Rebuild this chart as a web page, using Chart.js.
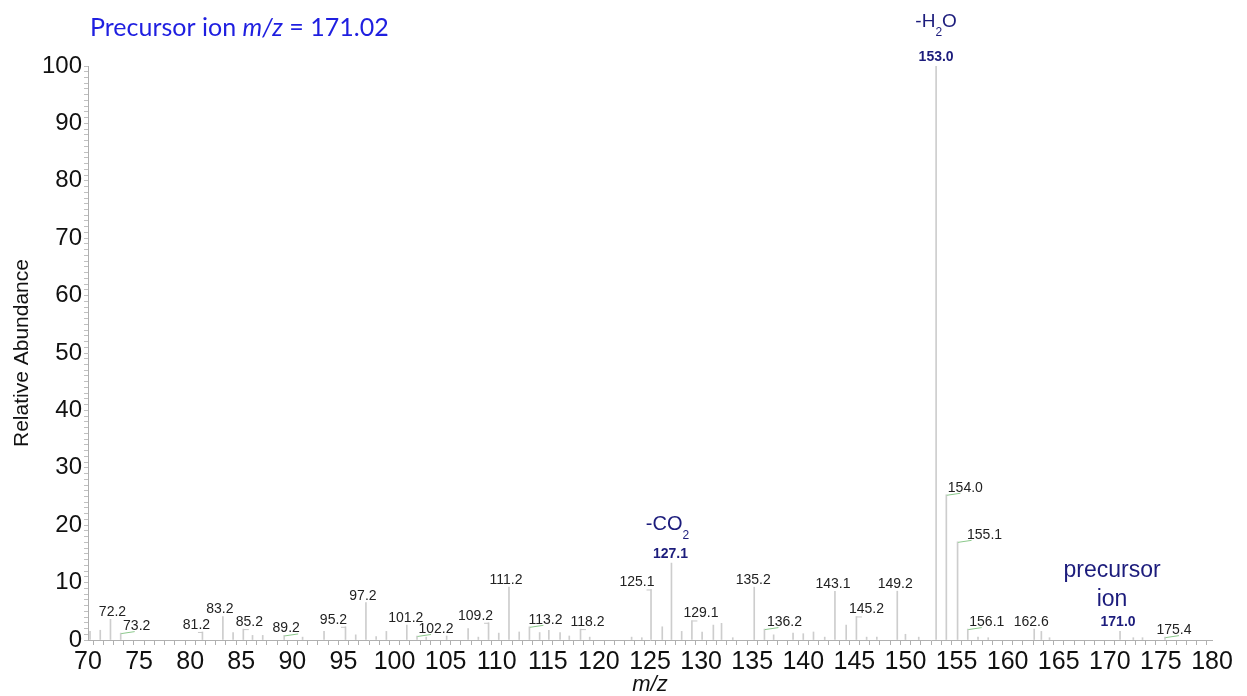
<!DOCTYPE html>
<html>
<head>
<meta charset="utf-8">
<script src="https://cdn.jsdelivr.net/npm/chart.js@4.4.1/dist/chart.umd.min.js"></script>
<style>
  html, body { margin: 0; padding: 0; background: #fff; }
  canvas { display: block; }
</style>
</head>
<body>
<canvas id="spectrum" width="1247" height="696"></canvas>
<script>
// peaks (m/z, relative abundance %)
const mzValues = [70.2, 71.2, 72.2, 73.2, 81.2, 83.2, 84.2, 85.2, 86.1, 87.1,
  89.2, 91.0, 93.1, 95.2, 96.2, 97.2, 98.2, 99.2, 101.2, 102.2,
  103.1, 105.1, 107.2, 108.2, 109.2, 110.2, 111.2, 112.2, 113.2, 114.2,
  115.1, 116.2, 117.1, 118.2, 119.1, 123.2, 124.2, 125.1, 126.2, 127.1,
  128.1, 129.1, 130.1, 131.2, 132.0, 133.1, 135.2, 136.2, 137.1, 139.0,
  140.0, 141.0, 142.1, 143.1, 144.2, 145.2, 146.2, 147.2, 149.2, 150.0,
  151.3, 153.0, 154.0, 155.1, 156.1, 157.1, 158.1, 162.6, 163.3, 164.1,
  171.0, 172.3, 173.2, 175.4];
const abundance = [1.5, 1.7, 3.6, 1.2, 1.4, 4.1, 1.3, 1.9, 0.8, 0.8,
  0.8, 0.5, 1.5, 2.3, 0.9, 6.5, 0.6, 1.5, 2.6, 0.7,
  0.5, 0.7, 2.0, 0.5, 3.0, 1.2, 9.2, 1.4, 2.3, 1.3,
  1.7, 1.3, 0.7, 1.9, 0.5, 0.5, 0.4, 8.8, 2.3, 13.4,
  1.5, 3.4, 1.4, 2.6, 2.9, 0.4, 9.2, 1.9, 0.9, 1.2,
  1.1, 1.4, 0.5, 8.5, 2.6, 4.1, 0.5, 0.5, 8.5, 1.0,
  0.5, 100, 25.3, 17.1, 1.9, 0.5, 0.4, 1.9, 1.5, 0.4,
  1.5, 0.4, 0.4, 0.5];

// peaks that carry an m/z label, and the ones printed in bold
const labeledPeaks = [72.2, 73.2, 81.2, 83.2, 85.2, 89.2, 95.2, 97.2, 101.2, 102.2,
  109.2, 111.2, 113.2, 118.2, 125.1, 127.1, 129.1, 135.2, 136.2, 143.1,
  145.2, 149.2, 153.0, 154.0, 155.1, 156.1, 162.6, 171.0, 175.4];
const boldPeaks = [127.1, 153.0, 171.0];

const xTickLabels = [70, 75, 80, 85, 90, 95, 100, 105, 110, 115, 120, 125, 130, 135, 140, 145, 150, 155, 160, 165, 170, 175, 180];
const yTickLabels = [0, 10, 20, 30, 40, 50, 60, 70, 80, 90, 100];

const precursorMz = '171.02';

// horizontal nudges of the peak labels, in px
const labelShift = {
  72.2: 2, 73.2: 16, 81.2: -6, 83.2: -3, 85.2: 6, 89.2: 2, 95.2: -12, 97.2: -3,
  101.2: -1, 102.2: 19, 109.2: -13, 111.2: -3, 113.2: 16, 118.2: 7, 125.1: -14,
  127.1: -1, 129.1: 9, 135.2: -1, 136.2: 20, 143.1: -2, 145.2: 10, 149.2: -2,
  153.0: 0, 154.0: 19, 155.1: 27, 156.1: 19, 162.6: -3, 171.0: -2, 175.4: 9
};
const greenLeaders = [73.2, 89.2, 102.2, 113.2, 136.2, 154.0, 155.1, 156.1, 175.4];

const NAVY = '#1c1c7c';
const SANS = '"Liberation Sans", Arial, sans-serif';

function drawFormula(ctx, parts, cx, baseline, size) {
  // parts: [text, isSub]
  let w = 0;
  parts.forEach(([t, sub]) => {
    ctx.font = (sub ? Math.round(size * 0.62) : size) + 'px ' + SANS;
    w += ctx.measureText(t).width;
  });
  let x = cx - w / 2;
  ctx.textAlign = 'left';
  parts.forEach(([t, sub]) => {
    ctx.font = (sub ? Math.round(size * 0.62) : size) + 'px ' + SANS;
    ctx.fillText(t, x, sub ? baseline + size * 0.45 : baseline);
    x += ctx.measureText(t).width;
  });
}

const annotations = {
  id: 'annotations',
  afterDatasetsDraw(chart) {
    const ctx = chart.ctx;
    const xs = chart.scales.x, ys = chart.scales.y;
    ctx.save();
    ctx.textBaseline = 'alphabetic';

    labeledPeaks.forEach(m => {
      const i = mzValues.indexOf(m);
      const px = xs.getPixelForValue(m);
      const py = ys.getPixelForValue(abundance[i]);
      const dx = labelShift[m] || 0;
      const bold = boldPeaks.includes(m);
      if (greenLeaders.includes(m)) {
        ctx.strokeStyle = '#8cc98c';
        ctx.lineWidth = 1;
        ctx.beginPath();
        ctx.moveTo(px + 0.5, py + 0.5);
        ctx.lineTo(px + 14, py - 1.5);
        ctx.stroke();
      } else if (Math.abs(dx) >= 6) {
        ctx.strokeStyle = '#c8c8c8';
        ctx.lineWidth = 1;
        ctx.beginPath();
        ctx.moveTo(px + 0.5, py + 0.5);
        ctx.lineTo(px + 0.5 + Math.sign(dx) * 5, py + 0.5);
        ctx.stroke();
      }
      ctx.textAlign = 'center';
      if (bold) {
        ctx.font = 'bold 14px ' + SANS;
        ctx.fillStyle = NAVY;
        ctx.fillText(m.toFixed(1), px + dx, py - 5);
      } else {
        ctx.font = '14px ' + SANS;
        ctx.fillStyle = '#222';
        ctx.fillText(m.toFixed(1), px + dx, py - 3);
      }
    });

    // fragment annotations
    ctx.fillStyle = NAVY;
    const h2oX = xs.getPixelForValue(153.0), h2oY = ys.getPixelForValue(100);
    drawFormula(ctx, [['-H', false], ['2', true], ['O', false]], h2oX, h2oY - 39, 19);
    const co2X = xs.getPixelForValue(127.1), co2Y = ys.getPixelForValue(13.4);
    drawFormula(ctx, [['-CO', false], ['2', true]], co2X - 4, co2Y - 33, 20);
    const preX = xs.getPixelForValue(171.0), preY = ys.getPixelForValue(1.5);
    ctx.textAlign = 'center';
    ctx.font = '23px ' + SANS;
    ctx.fillText('precursor', preX - 8, preY - 54);
    ctx.fillText('ion', preX - 8, preY - 25);

    // heading
    ctx.fillStyle = '#1f1fe0';
    ctx.textAlign = 'left';
    let x = 90;
    const hf = '25px Lato, "Open Sans", sans-serif';
    ctx.font = hf;
    ctx.fillText('Precursor ion ', x, 36);
    x += ctx.measureText('Precursor ion ').width;
    ctx.font = 'italic ' + hf;
    ctx.fillText('m/z', x, 36);
    x += ctx.measureText('m/z').width;
    ctx.font = hf;
    ctx.fillText(' = ' + precursorMz, x, 36);
    ctx.restore();
  }
};

new Chart(document.getElementById('spectrum'), {
  type: 'bar',
  data: {
    datasets: [{
      data: mzValues.map((m, i) => ({ x: m, y: abundance[i] })),
      backgroundColor: '#cdcdcd',
      borderWidth: 0,
      barThickness: 1,
      grouped: false
    }]
  },
  options: {
    responsive: false,
    animation: false,
    layout: { padding: { top: 66, right: 35, left: 0, bottom: 0 } },
    scales: {
      x: {
        type: 'linear',
        min: 70,
        max: 180,
        offset: false,
        afterFit(scale) { scale.height = 56; },
        ticks: {
          stepSize: 1,
          autoSkip: false,
          maxRotation: 0,
          padding: 2,
          color: '#111',
          font: { family: SANS, size: 25 },
          callback: v => xTickLabels.includes(v) ? String(v) : ''
        },
        grid: { drawOnChartArea: false, tickLength: 5, color: '#b0b0b0' },
        border: { color: '#b0b0b0' },
        title: {
          display: true,
          text: 'm/z',
          color: '#111',
          padding: { top: 0, bottom: 0 },
          font: { family: SANS, size: 22, style: 'italic', lineHeight: 1 }
        }
      },
      y: {
        min: 0,
        max: 100,
        afterFit(scale) { scale.width = 88; },
        ticks: {
          stepSize: 1,
          autoSkip: false,
          padding: 2,
          color: '#111',
          font: { family: SANS, size: 24 },
          callback: v => yTickLabels.includes(v) ? String(v) : ''
        },
        grid: { drawOnChartArea: false, tickLength: 4, color: '#c0c0c0' },
        border: { color: '#b0b0b0' },
        title: {
          display: true,
          text: 'Relative Abundance',
          color: '#111',
          padding: { top: 12, bottom: 0 },
          font: { family: SANS, size: 21, lineHeight: 1 }
        }
      }
    },
    plugins: {
      legend: { display: false },
      tooltip: { enabled: false }
    }
  },
  plugins: [annotations]
});
</script>
</body>
</html>
